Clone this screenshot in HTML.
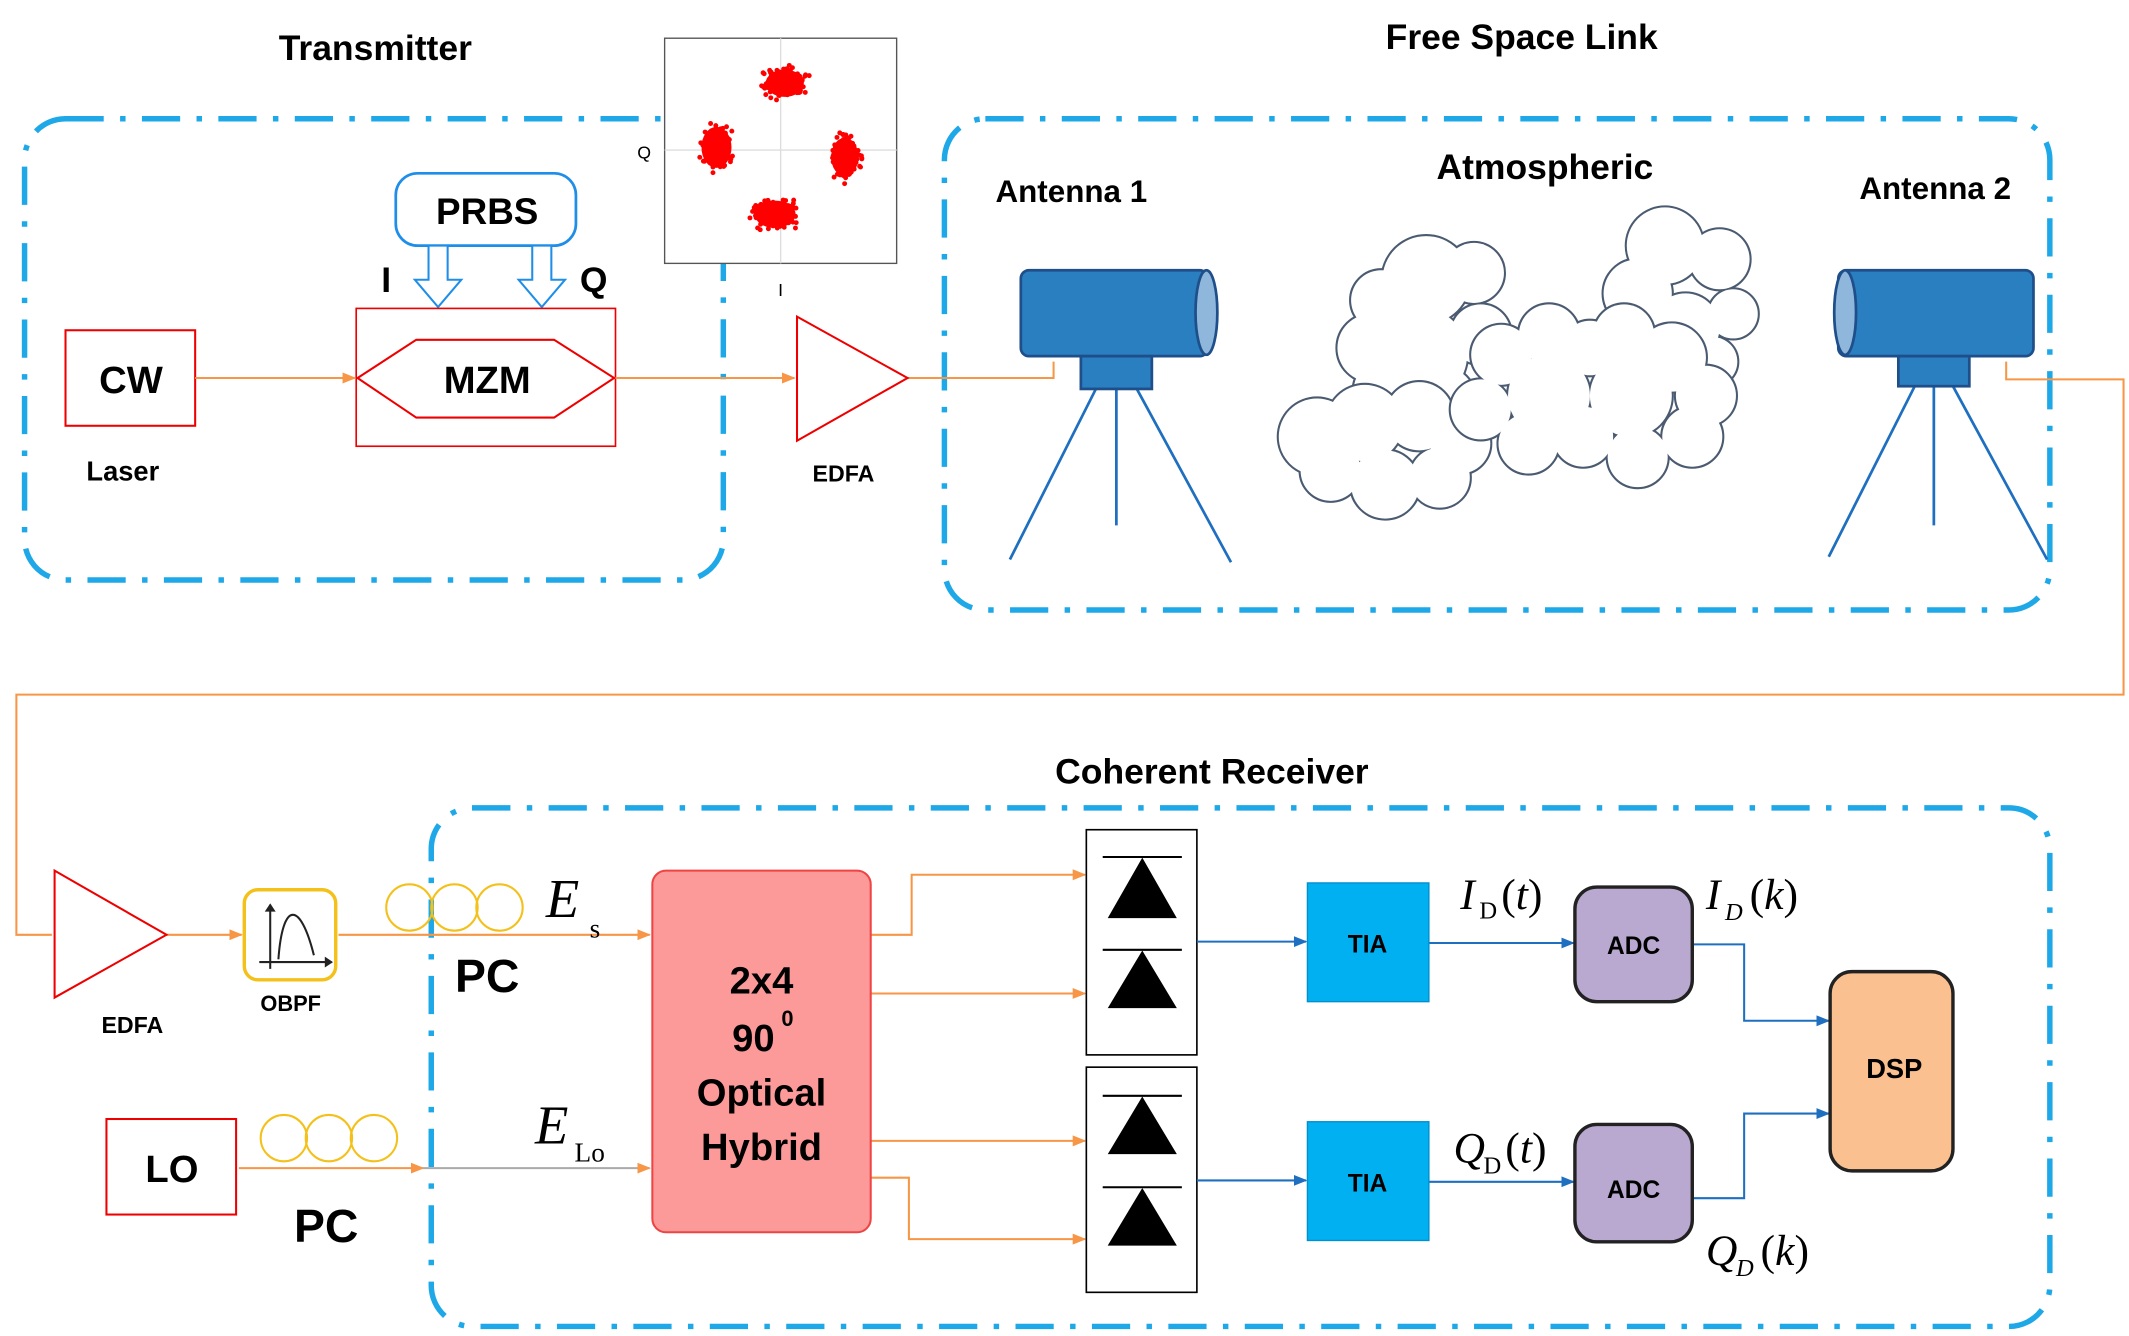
<!DOCTYPE html>
<html><head><meta charset="utf-8"><style>html,body{margin:0;padding:0;background:#fff}svg{display:block}</style></head>
<body>
<svg id="s" width="2129" height="1336" viewBox="0 0 1560 979" preserveAspectRatio="none" xmlns="http://www.w3.org/2000/svg" font-family="Liberation Sans, sans-serif">
<defs>
<marker id="ao" markerWidth="10" markerHeight="10" refX="9" refY="5" orient="auto" markerUnits="userSpaceOnUse"><path d="M0,1 L10,5 L0,9 z" fill="#f79646"/></marker>
<marker id="ab" markerWidth="10" markerHeight="10" refX="9" refY="5" orient="auto" markerUnits="userSpaceOnUse"><path d="M0,1 L10,5 L0,9 z" fill="#1f6fc0"/></marker>
</defs>
<g fill="none" stroke="#1ea8e8" stroke-width="4" stroke-dasharray="28,12,4,12">
<rect x="18" y="87" width="512" height="338" rx="30"/>
<rect x="692" y="87" width="810" height="360" rx="30"/>
<rect x="316" y="592" width="1186" height="380" rx="30"/>
</g>
<g font-weight="bold" fill="#000" font-size="26" text-anchor="middle" textLength="0">
<text x="275" y="44">Transmitter</text>
<text x="1115" y="36">Free Space Link</text>
<text x="1132" y="131">Atmospheric</text>
<text x="888" y="574">Coherent Receiver</text>
<text x="785" y="148" font-size="23">Antenna 1</text>
<text x="1418" y="146" font-size="23">Antenna 2</text>
</g>
<!-- constellation -->
<rect x="487" y="28" width="170" height="165" fill="#fff" stroke="#555" stroke-width="1"/>
<line x1="572" y1="28" x2="572" y2="193" stroke="#ddd"/><line x1="487" y1="110" x2="657" y2="110" stroke="#ddd"/>
<text x="472" y="116" font-size="13" text-anchor="middle">Q</text><text x="572" y="217" font-size="13" text-anchor="middle">I</text>
<g fill="#f00" id="cons"><ellipse cx="575" cy="61" rx="14" ry="10"/><ellipse cx="525" cy="108" rx="11" ry="15"/><ellipse cx="619" cy="115" rx="10" ry="14"/><ellipse cx="568" cy="157" rx="15" ry="10"/></g>
<!-- transmitter -->
<rect x="48" y="242" width="95" height="70" fill="#fff" stroke="#e00" stroke-width="1.5"/>
<text x="96" y="288" font-size="28" font-weight="bold" text-anchor="middle">CW</text>
<text x="90" y="352" font-size="20" font-weight="bold" text-anchor="middle">Laser</text>
<rect x="290" y="127" width="132" height="53" rx="16" fill="#fff" stroke="#1e8ee8" stroke-width="2"/>
<text x="357" y="164" font-size="27" font-weight="bold" text-anchor="middle">PRBS</text>
<g fill="#fff" stroke="#1e8ee8" stroke-width="1.5"><path d="M314,180 h14 v25 h10 l-17,20 l-17,-20 h10z"/><path d="M390,180 h14 v25 h10 l-17,20 l-17,-20 h10z"/></g>
<text x="283" y="214" font-size="26" font-weight="bold" text-anchor="middle">I</text>
<text x="435" y="214" font-size="26" font-weight="bold" text-anchor="middle">Q</text>
<rect x="261" y="226" width="190" height="101" fill="none" stroke="#e00" stroke-width="1.2"/>
<path d="M262,277 L305,249 L406,249 L450,277 L406,306 L305,306 Z" fill="none" stroke="#e00" stroke-width="1.5"/>
<text x="357" y="288" font-size="28" font-weight="bold" text-anchor="middle">MZM</text>
<g stroke="#f79646" stroke-width="1.5" fill="none">
<line x1="143" y1="277" x2="260" y2="277" marker-end="url(#ao)"/>
<line x1="451" y1="277" x2="582" y2="277" marker-end="url(#ao)"/>
<path d="M665,277 H772 V265"/>
<path d="M1470,265 V278 H1556 V509 H12 V685 H38"/>
<line x1="122" y1="685" x2="177" y2="685" marker-end="url(#ao)"/>
<line x1="248" y1="685" x2="476" y2="685" marker-end="url(#ao)"/>
<line x1="175" y1="856" x2="310" y2="856" marker-end="url(#ao)"/>
<line x1="310" y1="856" x2="476" y2="856" stroke="#aaa" marker-end="url(#ao)"/>
<path d="M638,685 H668 V641 H795" marker-end="url(#ao)"/>
<line x1="638" y1="728" x2="795" y2="728" marker-end="url(#ao)"/>
<line x1="638" y1="836" x2="795" y2="836" marker-end="url(#ao)"/>
<path d="M638,863 H666 V908 H795" marker-end="url(#ao)"/>
</g>
<path d="M584,232 L665,277 L584,323 Z" fill="#fff" stroke="#e00" stroke-width="1.5"/>
<text x="618" y="353" font-size="17" font-weight="bold" text-anchor="middle">EDFA</text>
<!-- antennas -->
<g stroke="#1f6fc0" stroke-width="2" fill="none">
<line x1="803" y1="285" x2="740" y2="410"/><line x1="818" y1="285" x2="818" y2="385"/><line x1="833" y1="285" x2="902" y2="412"/>
<line x1="1403" y1="283" x2="1340" y2="408"/><line x1="1417" y1="283" x2="1417" y2="385"/><line x1="1431" y1="283" x2="1500" y2="410"/>
</g>
<g stroke="#1f4f8a" stroke-width="2">
<rect x="748" y="198" width="137" height="63" rx="6" fill="#2a7fc1"/>
<ellipse cx="884" cy="229" rx="8" ry="31" fill="#8fb7dc"/>
<rect x="792" y="261" width="52" height="24" fill="#2a7fc1"/>
<rect x="1347" y="198" width="143" height="63" rx="6" fill="#2a7fc1"/>
<ellipse cx="1352" cy="229" rx="8" ry="31" fill="#8fb7dc"/>
<rect x="1391" y="261" width="52" height="22" fill="#2a7fc1"/>
</g>
<!-- clouds -->
<g id="cl"></g>
<!-- receiver front -->
<path d="M40,638 L122,685 L40,731 Z" fill="#fff" stroke="#e00" stroke-width="1.5"/>
<text x="97" y="757" font-size="17" font-weight="bold" text-anchor="middle">EDFA</text>
<rect x="179" y="652" width="67" height="66" rx="10" fill="#fff" stroke="#f4c01a" stroke-width="2.5"/>
<path d="M190,705 H243 M198,710 V663 M204,703 C207,660 220,660 230,700" stroke="#222" stroke-width="1.5" fill="none"/>
<path d="M238,701 l6,4 l-6,4z M194,668 l4,-6 l4,6z" fill="#222"/>
<text x="213" y="741" font-size="16" font-weight="bold" text-anchor="middle">OBPF</text>
<g fill="none" stroke="#f4c01a" stroke-width="1.5">
<circle cx="300" cy="665" r="17"/><circle cx="333" cy="665" r="17"/><circle cx="366" cy="665" r="17"/>
<circle cx="208" cy="834" r="17"/><circle cx="241" cy="834" r="17"/><circle cx="274" cy="834" r="17"/>
</g>
<text x="357" y="727" font-size="34" font-weight="bold" text-anchor="middle">PC</text>
<text x="239" y="910" font-size="34" font-weight="bold" text-anchor="middle">PC</text>
<rect x="78" y="820" width="95" height="70" fill="#fff" stroke="#e00" stroke-width="1.5"/>
<text x="126" y="866" font-size="28" font-weight="bold" text-anchor="middle">LO</text>
<g font-family="Liberation Serif, serif" font-style="italic" font-size="40">
<text x="400" y="672">E</text><text x="432" y="687" font-size="20" font-style="normal">s</text>
<text x="392" y="838">E</text><text x="421" y="851" font-size="20" font-style="normal">Lo</text>
<text x="1070" y="666" font-size="32">I</text><text x="1084" y="673" font-size="18" font-style="normal">D</text><text x="1100" y="666" font-size="32" font-style="normal">(<tspan font-style="italic">t</tspan>)</text>
<text x="1250" y="666" font-size="32">I</text><text x="1264" y="674" font-size="18">D</text><text x="1282" y="666" font-size="32" font-style="normal">(<tspan font-style="italic">k</tspan>)</text>
<text x="1065" y="852" font-size="32">Q</text><text x="1087" y="860" font-size="18" font-style="normal">D</text><text x="1103" y="852" font-size="32" font-style="normal">(<tspan font-style="italic">t</tspan>)</text>
<text x="1250" y="927" font-size="32">Q</text><text x="1272" y="935" font-size="18">D</text><text x="1290" y="927" font-size="32" font-style="normal">(<tspan font-style="italic">k</tspan>)</text>
</g>
<rect x="478" y="638" width="160" height="265" rx="10" fill="#fc9a9a" stroke="#e44" stroke-width="1.5"/>
<g font-size="28" font-weight="bold" text-anchor="middle"><text x="558" y="728">2x4</text><text x="552" y="770">90</text><text x="577" y="752" font-size="16">0</text><text x="558" y="810">Optical</text><text x="558" y="850">Hybrid</text></g>
<!-- photodiodes -->
<rect x="796" y="608" width="81" height="165" fill="#fff" stroke="#000" stroke-width="1.2"/>
<rect x="796" y="782" width="81" height="165" fill="#fff" stroke="#000" stroke-width="1.2"/>
<g fill="#000" stroke="#000" stroke-width="1.5">
<path d="M813,672 L837,630 L861,672Z"/><line x1="808" y1="628" x2="866" y2="628"/>
<path d="M813,738 L837,698 L861,738Z"/><line x1="808" y1="696" x2="866" y2="696"/>
<path d="M813,845 L837,805 L861,845Z"/><line x1="808" y1="803" x2="866" y2="803"/>
<path d="M813,912 L837,872 L861,912Z"/><line x1="808" y1="870" x2="866" y2="870"/>
</g>
<g stroke="#1f6fc0" stroke-width="1.5" fill="none">
<line x1="877" y1="690" x2="957" y2="690" marker-end="url(#ab)"/>
<line x1="877" y1="865" x2="957" y2="865" marker-end="url(#ab)"/>
<line x1="1047" y1="691" x2="1153" y2="691" marker-end="url(#ab)"/>
<line x1="1047" y1="866" x2="1153" y2="866" marker-end="url(#ab)"/>
<path d="M1240,692 H1278 V748 H1340" marker-end="url(#ab)"/>
<path d="M1240,878 H1278 V816 H1340" marker-end="url(#ab)"/>
</g>
<rect x="958" y="647" width="89" height="87" fill="#00b0f0" stroke="#0090d0"/>
<rect x="958" y="822" width="89" height="87" fill="#00b0f0" stroke="#0090d0"/>
<g font-size="18" font-weight="bold" text-anchor="middle"><text x="1002" y="698">TIA</text><text x="1002" y="873">TIA</text></g>
<rect x="1154" y="650" width="86" height="84" rx="16" fill="#b9a9d1" stroke="#222" stroke-width="2.5"/>
<rect x="1154" y="824" width="86" height="86" rx="16" fill="#b9a9d1" stroke="#222" stroke-width="2.5"/>
<g font-size="18" font-weight="bold" text-anchor="middle"><text x="1197" y="699">ADC</text><text x="1197" y="878">ADC</text></g>
<rect x="1341" y="712" width="90" height="146" rx="16" fill="#fbc08f" stroke="#222" stroke-width="2.5"/>
<text x="1388" y="790" font-size="20" font-weight="bold" text-anchor="middle">DSP</text>
<script>
(function(){var ns="http://www.w3.org/2000/svg";
var g=document.getElementById("cons");var c=[[575,61,12,8],[525,108,8,12],[619,115,8,12],[568,157,13,8]];
var seed=3;function r(){seed=(seed*9301+49297)%233280;return seed/233280;}
function gs(){return (r()+r()+r()-1.5)/1.5;}
c.forEach(function(p){for(var i=0;i<200;i++){var e=document.createElementNS(ns,"circle");e.setAttribute("cx",p[0]+gs()*p[2]*1.7);e.setAttribute("cy",p[1]+gs()*p[3]*1.7);e.setAttribute("r",1.8);g.appendChild(e);}});
var cl=document.getElementById("cl");
var clouds=[
 [[1045,205,32],[1080,200,22],[1012,220,22],[1005,255,25],[1040,260,35],[1085,245,22],[1010,285,18],[1060,290,20]],
 [[1220,180,28],[1260,190,22],[1270,230,18],[1200,215,25],[1235,240,25],[1200,260,18],[1255,265,18]],
 [[965,320,28],[1000,310,28],[1040,305,25],[1070,325,22],[1055,350,22],[1015,355,25],[975,345,22]],
 [[1100,260,22],[1135,245,22],[1165,255,20],[1190,245,22],[1225,262,25],[1250,290,22],[1240,320,22],[1200,335,22],[1160,320,22],[1120,325,22],[1085,300,22],[1135,290,30],[1195,290,30]]
];
clouds.forEach(function(cc){var g1=document.createElementNS(ns,"g"),g2=document.createElementNS(ns,"g");
cc.forEach(function(b){[g1,g2].forEach(function(gg,k){var e=document.createElementNS(ns,"circle");e.setAttribute("cx",b[0]);e.setAttribute("cy",b[1]);e.setAttribute("r",b[2]);e.setAttribute("fill","#fff");if(k==0){e.setAttribute("stroke","#4a5a70");e.setAttribute("stroke-width","3");}gg.appendChild(e);});});
cl.appendChild(g1);cl.appendChild(g2);});})();
</script>
</svg>
</body></html>
